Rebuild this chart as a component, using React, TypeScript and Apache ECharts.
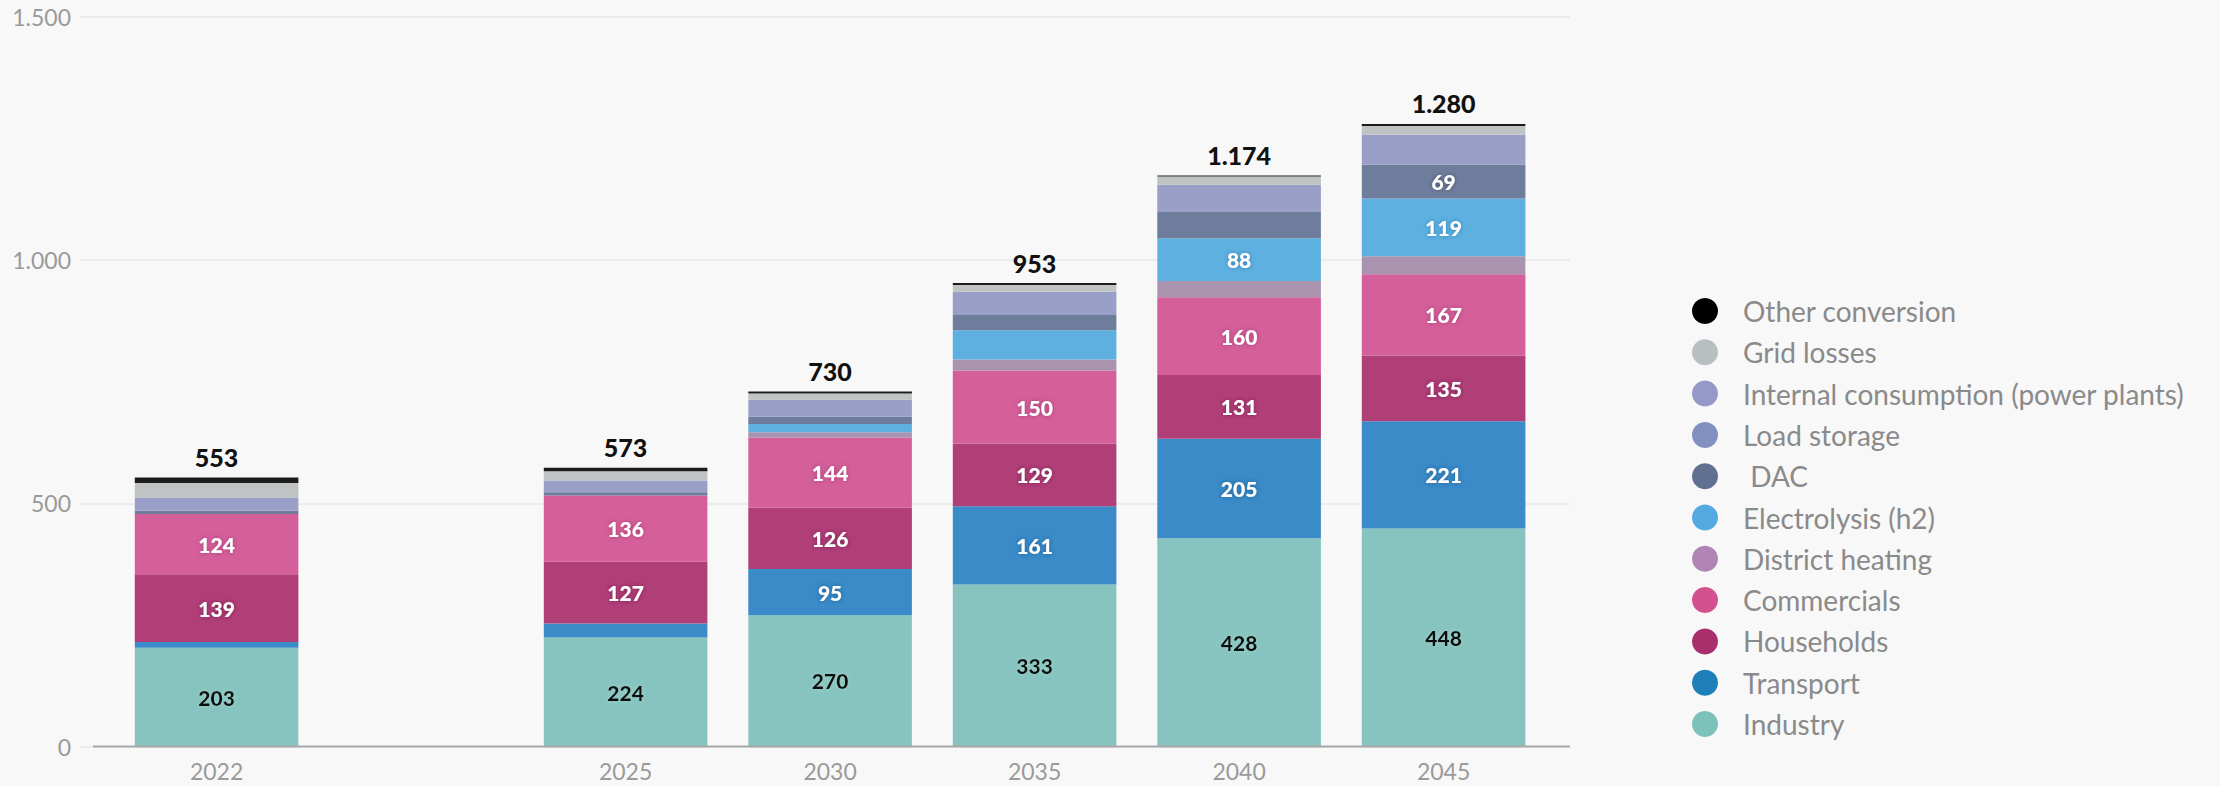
import React, { useEffect, useRef } from "react";
import * as echarts from "echarts";

const categories = ["2022", "", "2025", "2030", "2035", "2040", "2045"];

const industry = [203, null, 224, 270, 333, 428, 448];
const transport = [12, null, 29, 95, 161, 205, 221];
const households = [139, null, 127, 126, 129, 131, 135];
const commercials = [124, null, 136, 144, 150, 160, 167];
const districtHeating = [0, null, 0, 11, 23, 33, 37];
const electrolysis = [0, null, 0, 17, 60, 88, 119];
const dac = [7, null, 7, 15, 31, 54, 69];
const loadStorage = [0, null, 0, 0, 0, 0, 0];
const internalConsumption = [27, null, 24, 35, 48, 56, 62];
const gridLosses = [30, null, 19, 13, 14, 17, 18];
const otherConversion = [11, null, 7, 4, 4, 2, 4];
const totals = [553, null, 573, 730, 953, 1174, 1280];

const yTicks = [0, 500, 1000, 1500];

// stack order bottom -> top
const seriesDefs = [
  { name: "Industry", data: industry, bar: "#87c4bf", legend: "#7ec1ba", text: "#111111", glow: "#9fd3cd" },
  { name: "Transport", data: transport, bar: "#3a8bc8", legend: "#1f7fb8", text: "#ffffff", glow: "#1f5f95" },
  { name: "Households", data: households, bar: "#b03f78", legend: "#a82e6c", text: "#ffffff", glow: "#7a1f50" },
  { name: "Commercials", data: commercials, bar: "#d45f9a", legend: "#d45190", text: "#ffffff", glow: "#a83a72" },
  { name: "District heating", data: districtHeating, bar: "#a993ae", legend: "#b085b3", text: "#ffffff", glow: "#7a6080" },
  { name: "Electrolysis (h2)", data: electrolysis, bar: "#5eb0e0", legend: "#54aae0", text: "#ffffff", glow: "#2f80b5" },
  { name: " DAC", data: dac, bar: "#6e7d9c", legend: "#5f7090", text: "#ffffff", glow: "#44506a" },
  { name: "Load storage", data: loadStorage, bar: "#8b9ac5", legend: "#8190c0", text: "#ffffff", glow: "#5a6890" },
  { name: "Internal consumption (power plants)", data: internalConsumption, bar: "#9a9fc8", legend: "#9699c8", text: "#ffffff", glow: "#6a6f98" },
  { name: "Grid losses", data: gridLosses, bar: "#bfc3c4", legend: "#b9bec0", text: "#ffffff", glow: "#8a8e90" },
  { name: "Other conversion", data: otherConversion, bar: "#1c1c1c", legend: "#000000", text: "#ffffff", glow: "#000000" },
];

function fmtThousands(v: number): string {
  return String(v).replace(/\B(?=(\d{3})+(?!\d))/g, ".");
}

export default function App() {
  const ref = useRef<HTMLDivElement>(null);

  useEffect(() => {
    if (!ref.current) return;
    const chart = echarts.init(ref.current, null, { renderer: "svg" });

    const series: any[] = seriesDefs.map((s, idx) => {
      const isTop = idx === seriesDefs.length - 1;
      return {
        name: s.name,
        type: "bar",
        stack: "total",
        xAxisIndex: 1,
        yAxisIndex: 1,
        barWidth: "80%",
        data: s.data,
        itemStyle: { color: s.bar },
        emphasis: { disabled: true },
        label: isTop
          ? {
              show: true,
              position: "top",
              distance: 8,
              color: "#111111",
              fontFamily: "Lato",
              fontWeight: 900,
              fontSize: 25,
              formatter: (p: any) => {
                const t = totals[p.dataIndex];
                return t == null ? "" : fmtThousands(t);
              },
            }
          : {
              show: true,
              position: "inside",
              color: s.text,
              fontFamily: "Lato",
              fontWeight: 900,
              fontSize: 21,
              textShadowColor: s.glow,
              textShadowBlur: 4,
              formatter: (p: any) => (p.value != null && p.value >= 65 ? String(p.value) : ""),
            },
      };
    });

    const option: any = {
      animation: false,
      backgroundColor: "#f8f8f8",
      textStyle: { fontFamily: "Lato" },
      grid: [
        { left: 80, right: 650, top: 17, bottom: 39.5 },
        { left: 114.35, width: 1431.5, top: 17, bottom: 39.5 },
      ],
      xAxis: [
        { type: "value", gridIndex: 0, show: false, min: 0, max: 1 },
        {
          type: "category",
          gridIndex: 1,
          data: categories,
          axisLine: { show: false },
          axisTick: { show: false },
          axisLabel: { color: "#9a9a9a", fontSize: 23, margin: 13, fontFamily: "Lato" },
        },
      ],
      yAxis: [
        {
          type: "value",
          gridIndex: 0,
          min: 0,
          max: 1500,
          interval: 500,
          axisLine: { show: false },
          axisTick: { show: false },
          splitLine: { show: true, lineStyle: { color: "#e9e9e9", width: 1.5 } },
          axisLabel: {
            color: "#9a9a9a",
            fontSize: 23,
            margin: 9,
            fontFamily: "Lato",
            formatter: (v: number) => (yTicks.includes(v) ? fmtThousands(v) : ""),
          },
        },
        { type: "value", gridIndex: 1, min: 0, max: 1500, interval: 500, show: false },
      ],
      legend: {
        orient: "vertical",
        left: 1687,
        top: 292,
        icon: "circle",
        itemWidth: 26,
        itemHeight: 26,
        itemGap: 13.3,
        selectedMode: false,
        textStyle: { color: "#8a8a8a", fontSize: 28, lineHeight: 26, fontFamily: "Lato", padding: [0, 0, 0, 20] },
        data: seriesDefs
          .slice()
          .reverse()
          .map((s) => ({ name: s.name, itemStyle: { color: s.legend } })),
      },
      graphic: [
        {
          type: "line",
          shape: { x1: 93, y1: 746.5, x2: 1570, y2: 746.5 },
          style: { stroke: "#a8a8a8", lineWidth: 2 },
          z: 100,
        },
      ],
      series,
    };

    chart.setOption(option);
    return () => chart.dispose();
  }, []);

  return (
    <div
      ref={ref}
      style={{ position: "absolute", left: 0, top: 0, width: 2220, height: 786, background: "#f8f8f8" }}
    />
  );
}
